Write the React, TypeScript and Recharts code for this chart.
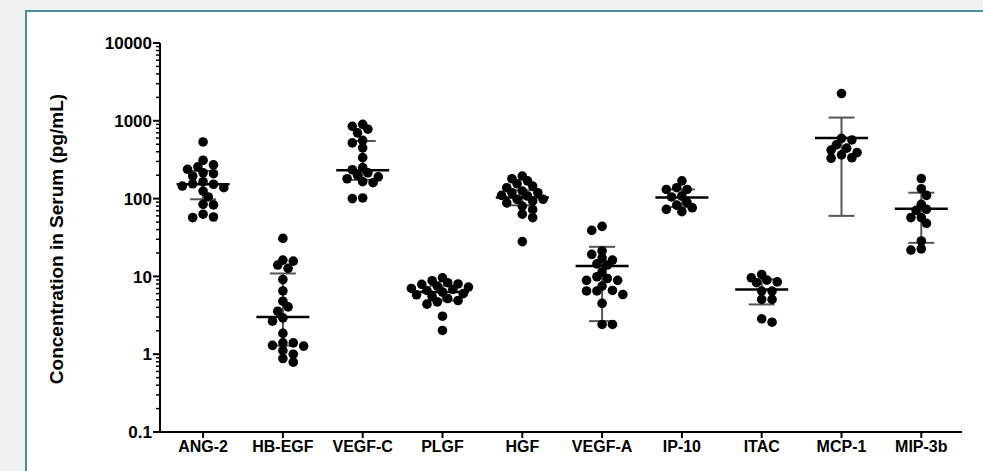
import React from 'react';
import { ScatterChart, Scatter, XAxis, YAxis, ErrorBar } from 'recharts';

const CATEGORIES = ['ANG-2', 'HB-EGF', 'VEGF-C', 'PLGF', 'HGF', 'VEGF-A', 'IP-10', 'ITAC', 'MCP-1', 'MIP-3b'];

// individual samples, pg/mL
const ANG2 = [535, 311, 271, 256, 238, 215, 209, 195, 165, 155, 153, 145, 138, 125, 105, 84.5, 83, 63, 58, 57];
const HBEGF = [30.8, 16.2, 15.7, 14, 12.7, 9.1, 6.5, 4.8, 4.06, 3.57, 2.93, 2.66, 1.85, 1.4, 1.4, 1.3, 1.27, 1.11, 1.0, 0.88, 0.79];
const VEGFC = [900, 850, 780, 700, 560, 520, 450, 336, 250, 235, 215, 200, 190, 180, 165, 160, 102, 100];
const PLGF = [9.6, 8.8, 8.3, 8.0, 7.9, 7.5, 7.3, 7.0, 6.8, 6.6, 6.3, 6.0, 5.8, 5.5, 5.2, 4.9, 4.7, 4.4, 3.08, 2.02];
const HGF = [195, 180, 169, 155, 145, 138, 125, 119, 119, 110, 108, 98, 98, 93, 88, 80, 72, 63, 57, 28];
const VEGFA = [44, 39, 21.2, 19.2, 17.2, 16.2, 14.5, 14, 11.4, 9.9, 9.4, 8.9, 8.9, 7.5, 6.6, 6.5, 6.5, 5.85, 4.5, 2.41, 2.41];
const IP10 = [169, 138, 131, 131, 108, 105, 88.7, 82.5, 76.2, 72.8, 68];
const ITAC = [10.6, 9.6, 8.95, 8.5, 8.3, 6.47, 6.47, 5.06, 5.06, 2.85, 2.58];
const MCP1 = [2240, 595, 567, 490, 445, 420, 390, 365, 335, 330];
const MIP3B = [181, 134, 110, 84.5, 73, 70.5, 57, 57, 48, 28.5, 22.6, 21.8];

const SAMPLES = [ANG2, HBEGF, VEGFC, PLGF, HGF, VEGFA, IP10, ITAC, MCP1, MIP3B];

// centre line and whisker ends
const CENTER = [153, 3.0, 231, 6.3, 103, 13.6, 103, 6.8, 600, 74];
const LOWER = [98, 1.29, 174, 4.9, 82, 2.66, 78, 4.36, 60, 27];
const UPPER = [227, 10.9, 550, 7.6, 128, 24, 131, 9.2, 1100, 119];

const Y_TICKS = [0.1, 1, 10, 100, 1000, 10000];
const Y_LABELS = ['0.1', '1', '10', '100', '1000', '10000'];

const FONT = '"Liberation Sans", Arial, sans-serif';

// minor log ticks 2..9 inside each decade
const allYTicks: number[] = [];
Y_TICKS.forEach((t, i) => {
  allYTicks.push(t);
  if (i < Y_TICKS.length - 1) {
    for (let m = 2; m <= 9; m++) allYTicks.push(+(t * m).toPrecision(3));
  }
});

// greedy column scatter (roughly how prism spreads the dots)
const PX_PER_DECADE = 77.7;
const PX_PER_CAT = 80;
const HALF = 0.065;
const DIAM = 7;
function swarm(values: number[], index: number) {
  const sorted = [...values].sort((a, b) => b - a);
  const placed: { dx: number; py: number }[] = [];
  const out: { x: number; y: number }[] = [];
  sorted.forEach((v, n) => {
    const py = Math.log10(v) * PX_PER_DECADE;
    const side = n % 2 === 0 ? 1 : -1;
    for (let k = 0; k < 40; k++) {
      const mag = Math.ceil(k / 2);
      const dx = k === 0 ? 0 : (k % 2 === 1 ? side : -side) * mag * HALF;
      const ok = placed.every((p) => {
        const ddx = (p.dx - dx) * PX_PER_CAT;
        const ddy = p.py - py;
        return ddx * ddx + ddy * ddy >= DIAM * DIAM;
      });
      if (ok) {
        placed.push({ dx, py });
        out.push({ x: index + dx, y: v });
        break;
      }
    }
  });
  return out;
}

const dots = SAMPLES.flatMap((vals, i) => swarm(vals, i));
const bars = CENTER.map((c, i) => ({ x: i, y: c, err: [c - LOWER[i], UPPER[i] - c] }));

const YTick = (props: any) => {
  const { x, y, payload } = props;
  const idx = Y_TICKS.indexOf(payload.value);
  const major = idx >= 0;
  return (
    <g>
      <line x1={x} x2={x - (major ? 7 : 4)} y1={y} y2={y} stroke="#000" strokeWidth={major ? 2 : 1.5} />
      {major && (
        <text x={x - 8} y={y} dy="0.36em" textAnchor="end" fontFamily={FONT} fontWeight={700} fontSize={17} fill="#000">
          {Y_LABELS[idx]}
        </text>
      )}
    </g>
  );
};

const Dot = (p: any) => <circle cx={p.cx} cy={p.cy} r={4.8} fill="#000" />;
const MeanLine = (p: any) => <line x1={p.cx - 26.5} x2={p.cx + 26.5} y1={p.cy} y2={p.cy} stroke="#000" strokeWidth={2.5} />;

export default function App() {
  return (
    <div style={{ position: 'fixed', left: 0, top: 0, width: 983, height: 471, background: '#eff1f3', overflow: 'hidden' }}>
      <div style={{ position: 'absolute', left: 25, top: 10, width: 1000, height: 520, background: '#fff', border: '2px solid #4b8f9b', boxSizing: 'border-box' }} />
      <div
        style={{
          position: 'absolute', left: 57, top: 239, transform: 'translate(-50%, -50%) rotate(-90deg)',
          whiteSpace: 'nowrap', fontFamily: FONT, fontWeight: 700, fontSize: 19, color: '#000',
        }}
      >
        Concentration in Serum (pg/mL)
      </div>
      <div style={{ position: 'absolute', left: 0, top: 0 }}>
        <ScatterChart width={983} height={471} margin={{ top: 43, right: 21, bottom: 0, left: 0 }}>
          <XAxis
            type="number"
            dataKey="x"
            domain={[-0.54, 9.51]}
            ticks={CATEGORIES.map((_, i) => i)}
            interval={0}
            allowDataOverflow
            tickFormatter={(v: number) => CATEGORIES[v] ?? ''}
            height={39}
            tickSize={6}
            tickMargin={3}
            axisLine={{ stroke: '#000', strokeWidth: 2 }}
            tickLine={{ stroke: '#000', strokeWidth: 2 }}
            tick={{ fill: '#000', fontFamily: FONT, fontWeight: 700, fontSize: 16 }}
          />
          <YAxis
            type="number"
            dataKey="y"
            scale="log"
            domain={[0.1, 10000]}
            allowDataOverflow
            ticks={allYTicks}
            interval={0}
            width={160}
            tickSize={0}
            tickMargin={0}
            tickLine={false}
            axisLine={{ stroke: '#000', strokeWidth: 2 }}
            tick={<YTick />}
          />
          <Scatter data={dots} shape={<Dot />} isAnimationActive={false} />
          <Scatter data={bars} shape={<MeanLine />} isAnimationActive={false}>
            <ErrorBar dataKey="err" direction="y" width={13} stroke="#555" strokeWidth={2} />
          </Scatter>
        </ScatterChart>
      </div>
    </div>
  );
}
